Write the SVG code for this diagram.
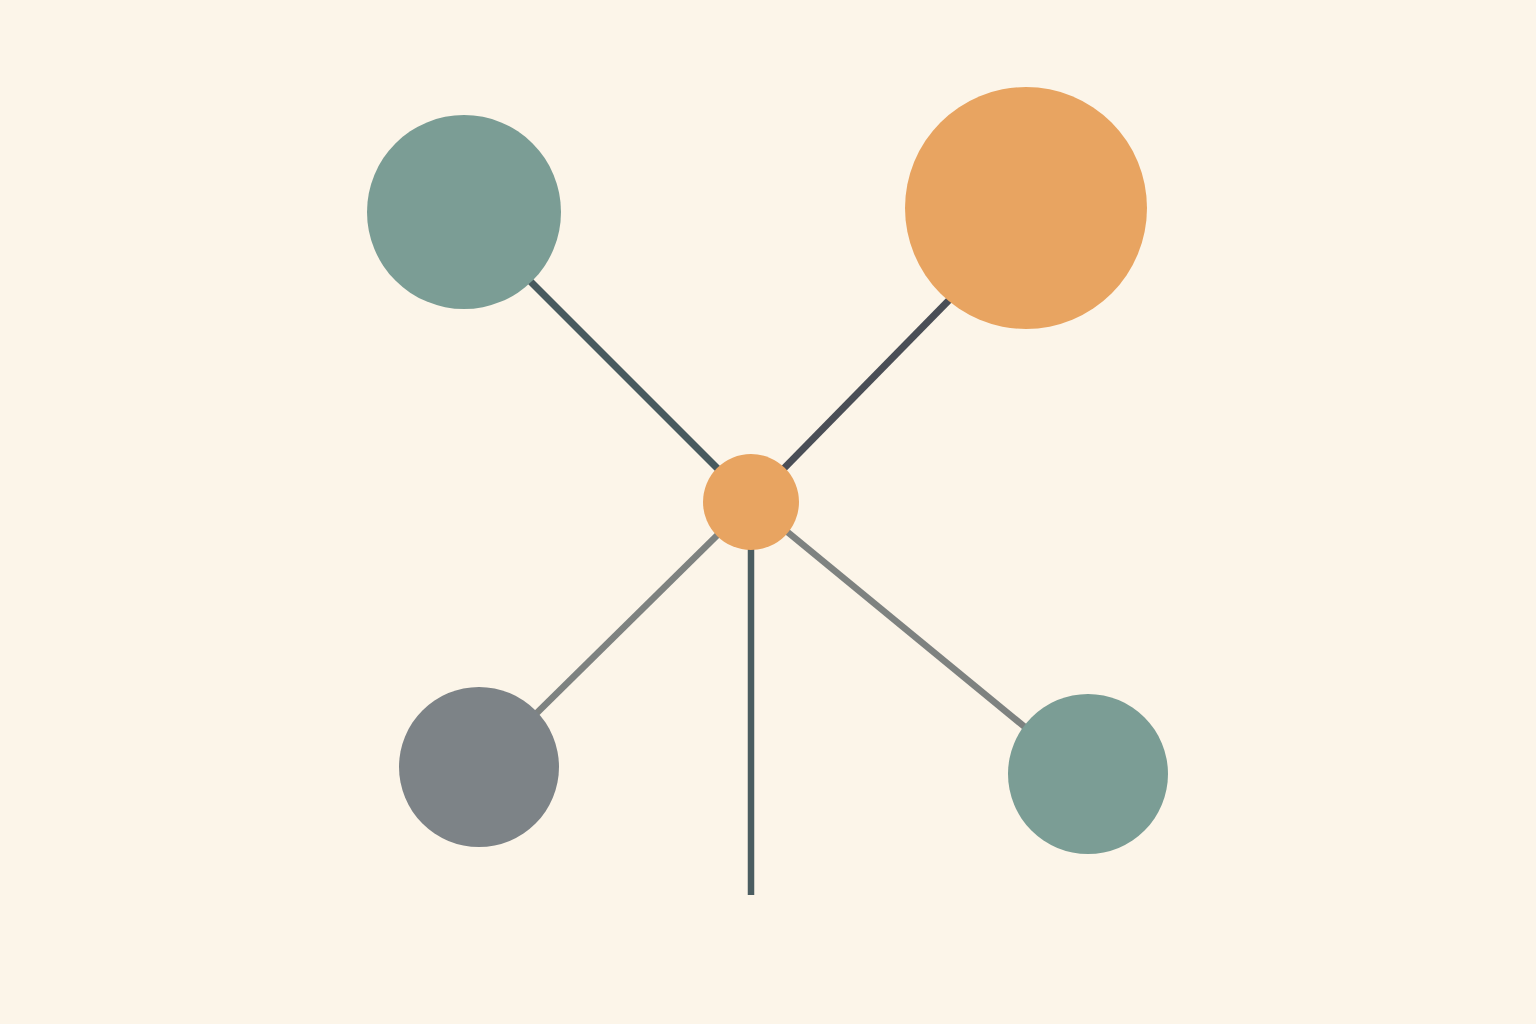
<svg xmlns="http://www.w3.org/2000/svg" width="1536" height="1024" viewBox="0 0 1536 1024">
<style>
.bg{fill:#fcf5e9}
.l{stroke-linecap:butt;fill:none}
.dk1{stroke:#475a5e;stroke-width:7}
.dk2{stroke:#4a4e56;stroke-width:7}
.gr{stroke:#7e8280;stroke-width:6.5}
.vt{stroke:#4b5d61;stroke-width:6.5}
.teal{fill:#7b9d95}
.orange{fill:#e8a461}
.grey{fill:#7d8387}
</style>
<rect class="bg" width="1536" height="1024"/>
<g id="connectors">
<line class="l dk1" x1="464" y1="215" x2="751" y2="502"/>
<line class="l dk2" x1="1010" y1="238" x2="751" y2="502"/>
<line class="l gr" x1="479" y1="770" x2="751" y2="502"/>
<line class="l gr" x1="1088" y1="779" x2="751" y2="502"/>
<line class="l vt" x1="751" y1="502" x2="751" y2="895"/>
</g>
<g id="node-top-left"><circle class="teal" cx="464" cy="212" r="97"/></g>
<g id="node-top-right"><circle class="orange" cx="1026" cy="208" r="121"/></g>
<g id="node-bottom-left"><circle class="grey" cx="479" cy="767" r="80"/></g>
<g id="node-bottom-right"><circle class="teal" cx="1088" cy="774" r="80"/></g>
<g id="node-center"><circle class="orange" cx="751" cy="502" r="48"/></g>
</svg>
